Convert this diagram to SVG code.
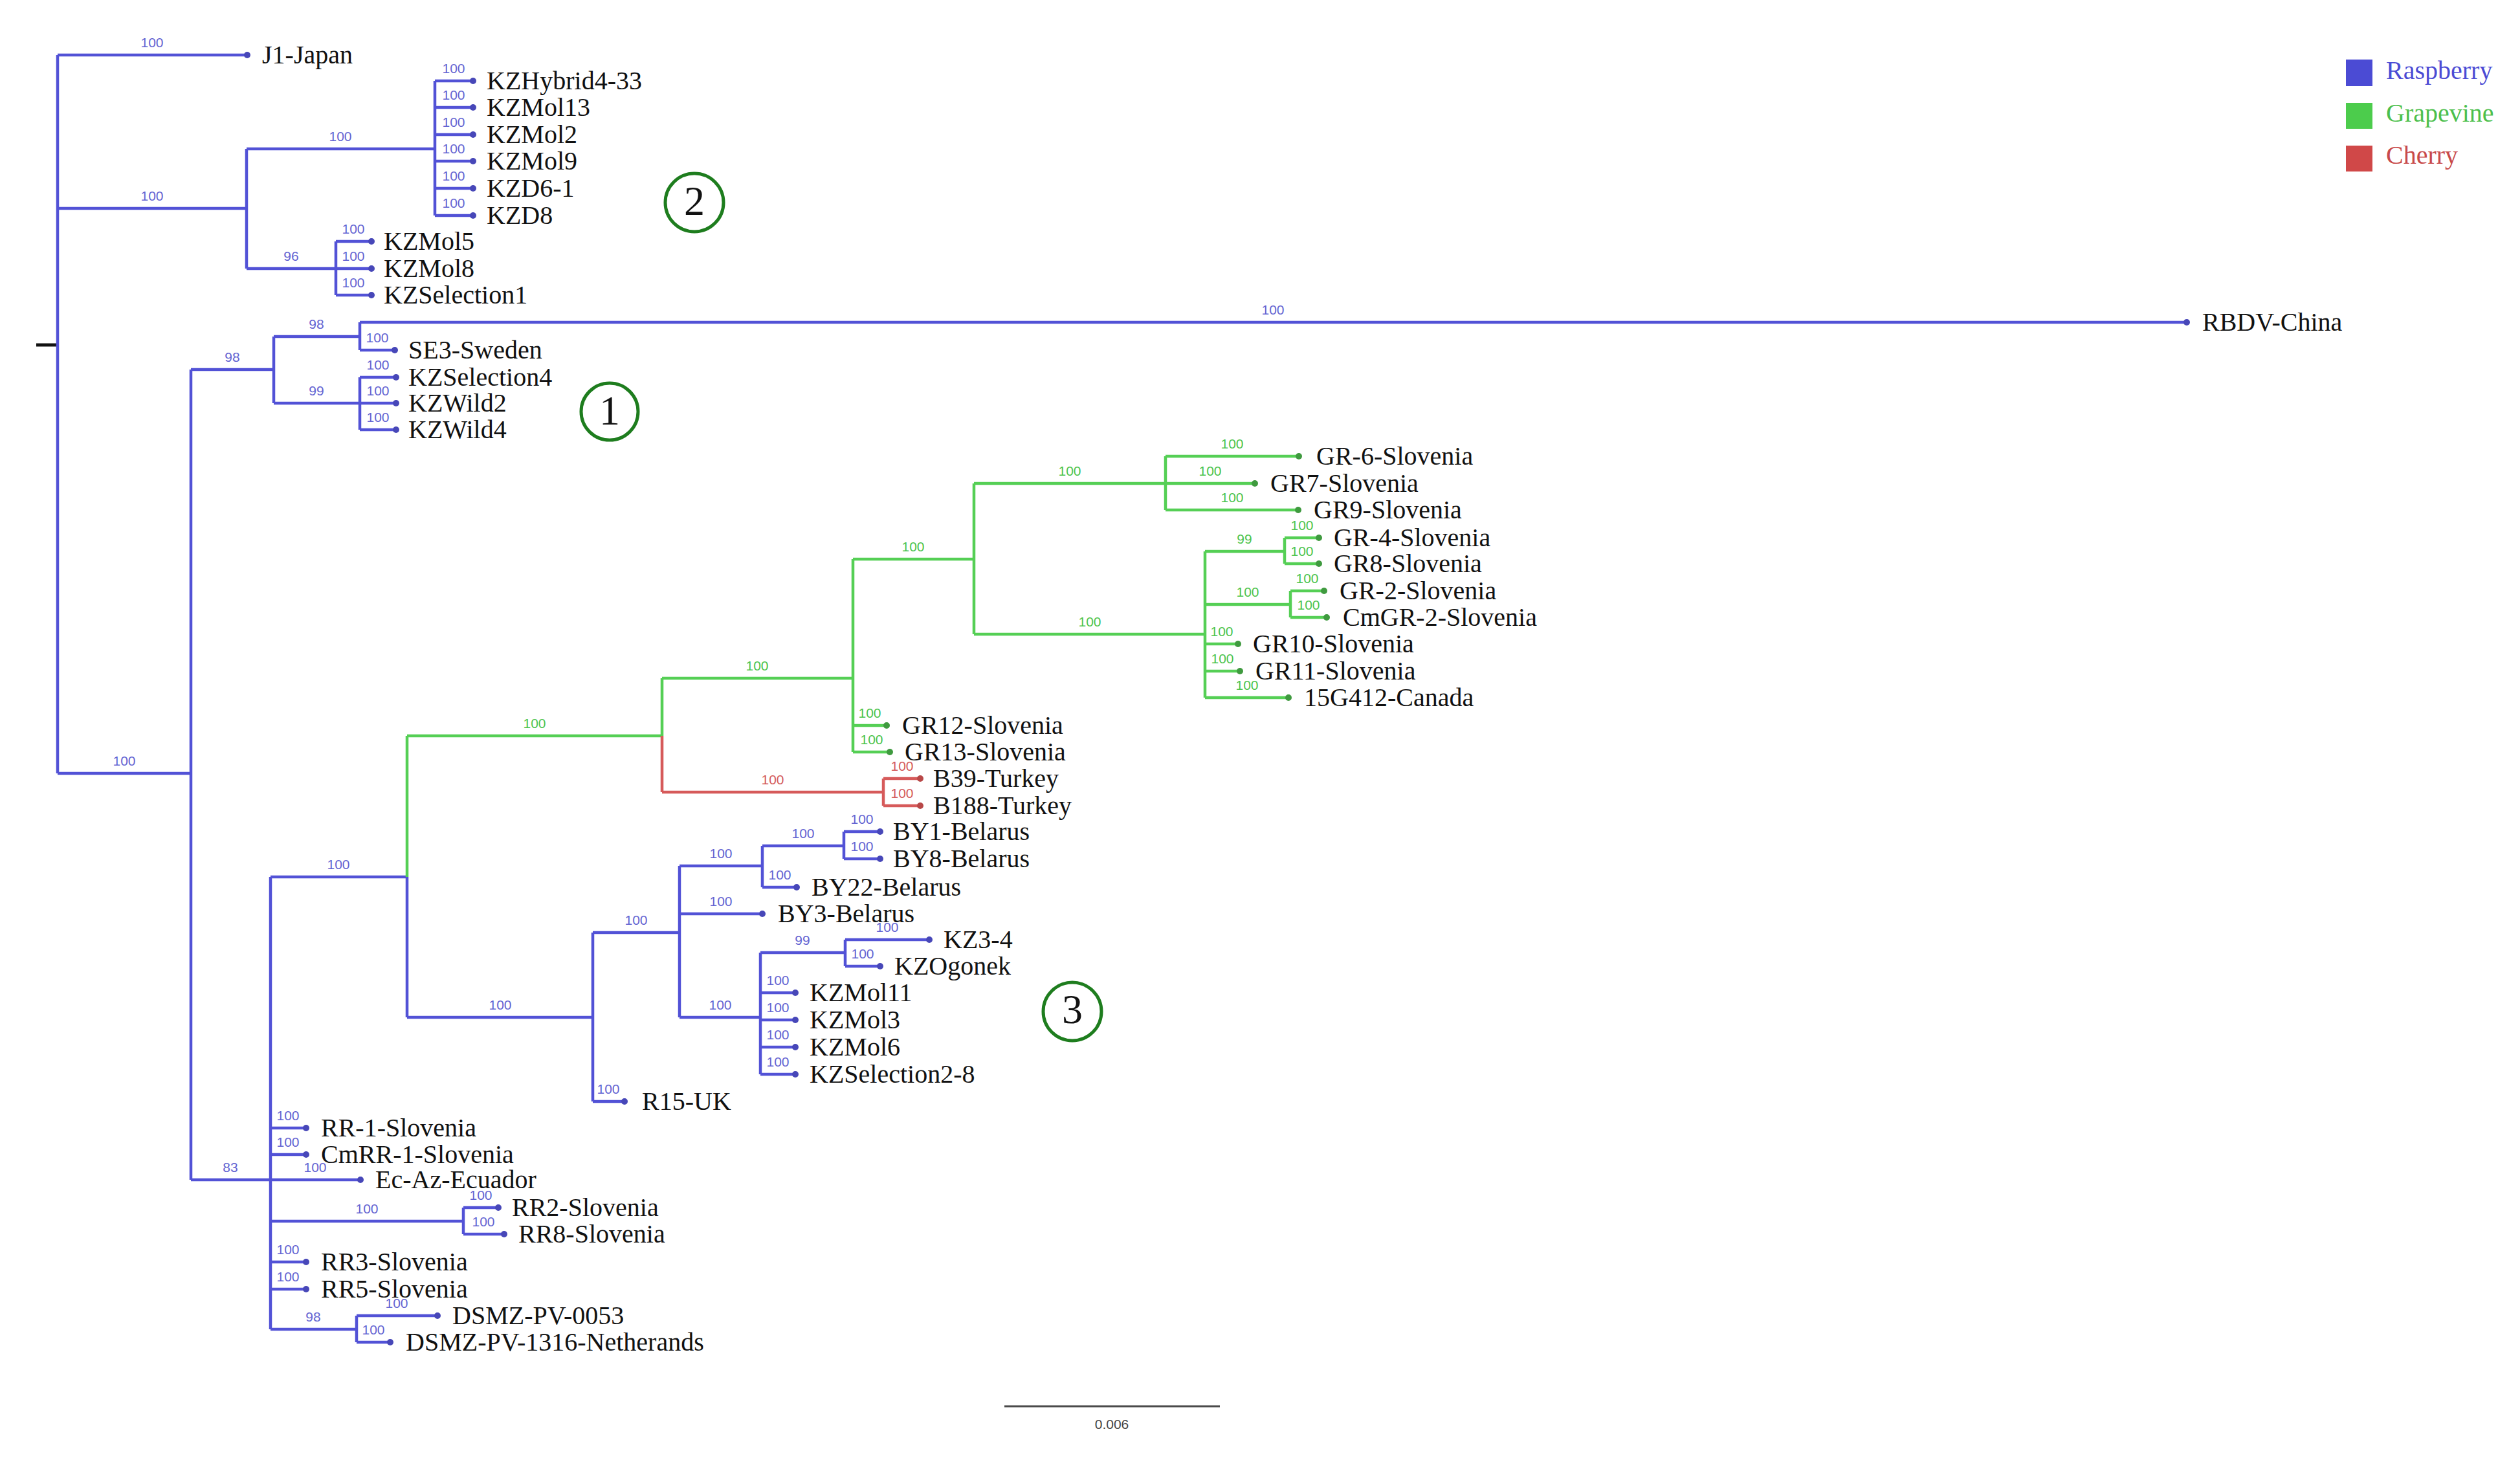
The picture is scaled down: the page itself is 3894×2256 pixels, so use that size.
<svg xmlns="http://www.w3.org/2000/svg" width="3894" height="2256" viewBox="0 0 3894 2256">
<style>
.b{stroke:#5252d6;stroke-width:4.5;fill:none}
.g{stroke:#55cf55;stroke-width:4.5;fill:none}
.r{stroke:#d65a5a;stroke-width:4.5;fill:none}
.k{stroke:#111;stroke-width:5;fill:none}
.bs{font-family:"Liberation Sans",Arial,sans-serif;font-size:21px;text-anchor:middle}
.sb{fill:#6464d2}.sg{fill:#4cc44c}.sr{fill:#d45a5a}
.lb{font-family:"Liberation Serif","Times New Roman",serif;font-size:40px;fill:#111}
.db{fill:#4747b8}.dg{fill:#3f9a3f}.dr{fill:#b84848}
.cl{fill:none;stroke:#1e7d1e;stroke-width:5}
.cn{font-family:"Liberation Serif","Times New Roman",serif;font-size:64px;fill:#111;text-anchor:middle}
.lg{font-family:"Liberation Serif","Times New Roman",serif;font-size:40px}
</style>
<rect width="3894" height="2256" fill="#fff"/>
<g id="connectors">
<path class="k" d="M56,533H89"/>
<path class="b" d="M89,85V1195 M89,85H382 M89,322H381 M381,230V415 M381,230H672 M672,125V333 M672,125H731 M672,166H731 M672,208H731 M672,249H731 M672,291H731 M672,333H731 M381,415H519 M519,373V456 M519,373H574 M519,415H574 M519,456H574 M89,1195H295 M295,571V1823 M295,571H423 M423,520V623 M423,520H556 M556,498V541 M556,498H3379 M556,541H610 M423,623H556 M556,583V664 M556,583H612 M556,623H612 M556,664H612 M295,1823H418 M418,1355V2054 M418,1355H629 M629,1355V1572 M629,1572H916 M916,1441V1702 M916,1441H1050 M1050,1338V1572 M1050,1338H1178 M1178,1307V1371 M1178,1307H1304 M1304,1285V1327 M1304,1285H1360 M1304,1327H1360 M1178,1371H1231 M1050,1412H1178 M1050,1572H1175 M1175,1472V1660 M1175,1472H1306 M1306,1452V1493 M1306,1452H1436 M1306,1493H1360 M1175,1534H1229 M1175,1576H1229 M1175,1618H1229 M1175,1660H1229 M916,1702H965 M418,1743H473 M418,1784H473 M418,1823H557 M418,1887H716 M716,1866V1907 M716,1866H770 M716,1907H779 M418,1950H473 M418,1992H473 M418,2054H551 M551,2033V2074 M551,2033H676 M551,2074H603"/>
<path class="g" d="M629,1137V1355 M629,1137H1023 M1023,1048V1137 M1023,1048H1318 M1318,864V1162 M1318,864H1505 M1505,747V980 M1505,747H1801 M1801,705V788 M1801,705H2007 M1801,747H1939 M1801,788H2006 M1505,980H1862 M1862,852V1078 M1862,852H1985 M1985,831V871 M1985,831H2038 M1985,871H2038 M1862,934H1994 M1994,913V954 M1994,913H2046 M1994,954H2050 M1862,995H1913 M1862,1037H1916 M1862,1078H1991 M1318,1121H1370 M1318,1162H1375"/>
<path class="r" d="M1023,1137V1224 M1023,1224H1365 M1365,1203V1245 M1365,1203H1422 M1365,1245H1422"/>
</g>
<g id="support">
<g class="bs sb">
<text x="235" y="73">100</text>
<text x="235" y="310">100</text>
<text x="526" y="218">100</text>
<text x="701" y="113">100</text>
<text x="701" y="154">100</text>
<text x="701" y="196">100</text>
<text x="701" y="237">100</text>
<text x="701" y="279">100</text>
<text x="701" y="321">100</text>
<text x="450" y="403">96</text>
<text x="546" y="361">100</text>
<text x="546" y="403">100</text>
<text x="546" y="444">100</text>
<text x="192" y="1183">100</text>
<text x="359" y="559">98</text>
<text x="489" y="508">98</text>
<text x="1967" y="486">100</text>
<text x="583" y="529">100</text>
<text x="489" y="611">99</text>
<text x="584" y="571">100</text>
<text x="584" y="611">100</text>
<text x="584" y="652">100</text>
<text x="356" y="1811">83</text>
<text x="523" y="1343">100</text>
<text x="773" y="1560">100</text>
<text x="983" y="1429">100</text>
<text x="1114" y="1326">100</text>
<text x="1241" y="1295">100</text>
<text x="1332" y="1273">100</text>
<text x="1332" y="1315">100</text>
<text x="1205" y="1359">100</text>
<text x="1114" y="1400">100</text>
<text x="1113" y="1560">100</text>
<text x="1240" y="1460">99</text>
<text x="1371" y="1440">100</text>
<text x="1333" y="1481">100</text>
<text x="1202" y="1522">100</text>
<text x="1202" y="1564">100</text>
<text x="1202" y="1606">100</text>
<text x="1202" y="1648">100</text>
<text x="940" y="1690">100</text>
<text x="445" y="1731">100</text>
<text x="445" y="1772">100</text>
<text x="487" y="1811">100</text>
<text x="567" y="1875">100</text>
<text x="743" y="1854">100</text>
<text x="747" y="1895">100</text>
<text x="445" y="1938">100</text>
<text x="445" y="1980">100</text>
<text x="484" y="2042">98</text>
<text x="613" y="2021">100</text>
<text x="577" y="2062">100</text>
</g>
<g class="bs sg">
<text x="826" y="1125">100</text>
<text x="1170" y="1036">100</text>
<text x="1411" y="852">100</text>
<text x="1653" y="735">100</text>
<text x="1904" y="693">100</text>
<text x="1870" y="735">100</text>
<text x="1904" y="776">100</text>
<text x="1684" y="968">100</text>
<text x="1923" y="840">99</text>
<text x="2012" y="819">100</text>
<text x="2012" y="859">100</text>
<text x="1928" y="922">100</text>
<text x="2020" y="901">100</text>
<text x="2022" y="942">100</text>
<text x="1888" y="983">100</text>
<text x="1889" y="1025">100</text>
<text x="1927" y="1066">100</text>
<text x="1344" y="1109">100</text>
<text x="1347" y="1150">100</text>
</g>
<g class="bs sr">
<text x="1194" y="1212">100</text>
<text x="1394" y="1191">100</text>
<text x="1394" y="1233">100</text>
</g>
</g>
<g id="leaves">
<g id="n-J1-Japan"><circle class="db" cx="382" cy="85" r="5"/><text class="lb" x="405" y="98">J1-Japan</text></g>
<g id="n-KZHybrid4-33"><circle class="db" cx="731" cy="125" r="5"/><text class="lb" x="752" y="138">KZHybrid4-33</text></g>
<g id="n-KZMol13"><circle class="db" cx="731" cy="166" r="5"/><text class="lb" x="752" y="179">KZMol13</text></g>
<g id="n-KZMol2"><circle class="db" cx="731" cy="208" r="5"/><text class="lb" x="752" y="221">KZMol2</text></g>
<g id="n-KZMol9"><circle class="db" cx="731" cy="249" r="5"/><text class="lb" x="752" y="262">KZMol9</text></g>
<g id="n-KZD6-1"><circle class="db" cx="731" cy="291" r="5"/><text class="lb" x="752" y="304">KZD6-1</text></g>
<g id="n-KZD8"><circle class="db" cx="731" cy="333" r="5"/><text class="lb" x="752" y="346">KZD8</text></g>
<g id="n-KZMol5"><circle class="db" cx="574" cy="373" r="5"/><text class="lb" x="593" y="386">KZMol5</text></g>
<g id="n-KZMol8"><circle class="db" cx="574" cy="415" r="5"/><text class="lb" x="593" y="428">KZMol8</text></g>
<g id="n-KZSelection1"><circle class="db" cx="574" cy="456" r="5"/><text class="lb" x="593" y="469">KZSelection1</text></g>
<g id="n-RBDV-China"><circle class="db" cx="3379" cy="498" r="5"/><text class="lb" x="3403" y="511">RBDV-China</text></g>
<g id="n-SE3-Sweden"><circle class="db" cx="610" cy="541" r="5"/><text class="lb" x="631" y="554">SE3-Sweden</text></g>
<g id="n-KZSelection4"><circle class="db" cx="612" cy="583" r="5"/><text class="lb" x="631" y="596">KZSelection4</text></g>
<g id="n-KZWild2"><circle class="db" cx="612" cy="623" r="5"/><text class="lb" x="631" y="636">KZWild2</text></g>
<g id="n-KZWild4"><circle class="db" cx="612" cy="664" r="5"/><text class="lb" x="631" y="677">KZWild4</text></g>
<g id="n-GR-6-Slovenia"><circle class="dg" cx="2007" cy="705" r="5"/><text class="lb" x="2034" y="718">GR-6-Slovenia</text></g>
<g id="n-GR7-Slovenia"><circle class="dg" cx="1939" cy="747" r="5"/><text class="lb" x="1963" y="760">GR7-Slovenia</text></g>
<g id="n-GR9-Slovenia"><circle class="dg" cx="2006" cy="788" r="5"/><text class="lb" x="2030" y="801">GR9-Slovenia</text></g>
<g id="n-GR-4-Slovenia"><circle class="dg" cx="2038" cy="831" r="5"/><text class="lb" x="2061" y="844">GR-4-Slovenia</text></g>
<g id="n-GR8-Slovenia"><circle class="dg" cx="2038" cy="871" r="5"/><text class="lb" x="2061" y="884">GR8-Slovenia</text></g>
<g id="n-GR-2-Slovenia"><circle class="dg" cx="2046" cy="913" r="5"/><text class="lb" x="2070" y="926">GR-2-Slovenia</text></g>
<g id="n-CmGR-2-Slovenia"><circle class="dg" cx="2050" cy="954" r="5"/><text class="lb" x="2075" y="967">CmGR-2-Slovenia</text></g>
<g id="n-GR10-Slovenia"><circle class="dg" cx="1913" cy="995" r="5"/><text class="lb" x="1936" y="1008">GR10-Slovenia</text></g>
<g id="n-GR11-Slovenia"><circle class="dg" cx="1916" cy="1037" r="5"/><text class="lb" x="1940" y="1050">GR11-Slovenia</text></g>
<g id="n-15G412-Canada"><circle class="dg" cx="1991" cy="1078" r="5"/><text class="lb" x="2015" y="1091">15G412-Canada</text></g>
<g id="n-GR12-Slovenia"><circle class="dg" cx="1370" cy="1121" r="5"/><text class="lb" x="1394" y="1134">GR12-Slovenia</text></g>
<g id="n-GR13-Slovenia"><circle class="dg" cx="1375" cy="1162" r="5"/><text class="lb" x="1398" y="1175">GR13-Slovenia</text></g>
<g id="n-B39-Turkey"><circle class="dr" cx="1422" cy="1203" r="5"/><text class="lb" x="1442" y="1216">B39-Turkey</text></g>
<g id="n-B188-Turkey"><circle class="dr" cx="1422" cy="1245" r="5"/><text class="lb" x="1442" y="1258">B188-Turkey</text></g>
<g id="n-BY1-Belarus"><circle class="db" cx="1360" cy="1285" r="5"/><text class="lb" x="1380" y="1298">BY1-Belarus</text></g>
<g id="n-BY8-Belarus"><circle class="db" cx="1360" cy="1327" r="5"/><text class="lb" x="1380" y="1340">BY8-Belarus</text></g>
<g id="n-BY22-Belarus"><circle class="db" cx="1231" cy="1371" r="5"/><text class="lb" x="1254" y="1384">BY22-Belarus</text></g>
<g id="n-BY3-Belarus"><circle class="db" cx="1178" cy="1412" r="5"/><text class="lb" x="1202" y="1425">BY3-Belarus</text></g>
<g id="n-KZ3-4"><circle class="db" cx="1436" cy="1452" r="5"/><text class="lb" x="1458" y="1465">KZ3-4</text></g>
<g id="n-KZOgonek"><circle class="db" cx="1360" cy="1493" r="5"/><text class="lb" x="1382" y="1506">KZOgonek</text></g>
<g id="n-KZMol11"><circle class="db" cx="1229" cy="1534" r="5"/><text class="lb" x="1251" y="1547">KZMol11</text></g>
<g id="n-KZMol3"><circle class="db" cx="1229" cy="1576" r="5"/><text class="lb" x="1251" y="1589">KZMol3</text></g>
<g id="n-KZMol6"><circle class="db" cx="1229" cy="1618" r="5"/><text class="lb" x="1251" y="1631">KZMol6</text></g>
<g id="n-KZSelection2-8"><circle class="db" cx="1229" cy="1660" r="5"/><text class="lb" x="1251" y="1673">KZSelection2-8</text></g>
<g id="n-R15-UK"><circle class="db" cx="965" cy="1702" r="5"/><text class="lb" x="992" y="1715">R15-UK</text></g>
<g id="n-RR-1-Slovenia"><circle class="db" cx="473" cy="1743" r="5"/><text class="lb" x="496" y="1756">RR-1-Slovenia</text></g>
<g id="n-CmRR-1-Slovenia"><circle class="db" cx="473" cy="1784" r="5"/><text class="lb" x="496" y="1797">CmRR-1-Slovenia</text></g>
<g id="n-Ec-Az-Ecuador"><circle class="db" cx="557" cy="1823" r="5"/><text class="lb" x="580" y="1836">Ec-Az-Ecuador</text></g>
<g id="n-RR2-Slovenia"><circle class="db" cx="770" cy="1866" r="5"/><text class="lb" x="791" y="1879">RR2-Slovenia</text></g>
<g id="n-RR8-Slovenia"><circle class="db" cx="779" cy="1907" r="5"/><text class="lb" x="801" y="1920">RR8-Slovenia</text></g>
<g id="n-RR3-Slovenia"><circle class="db" cx="473" cy="1950" r="5"/><text class="lb" x="496" y="1963">RR3-Slovenia</text></g>
<g id="n-RR5-Slovenia"><circle class="db" cx="473" cy="1992" r="5"/><text class="lb" x="496" y="2005">RR5-Slovenia</text></g>
<g id="n-DSMZ-PV-0053"><circle class="db" cx="676" cy="2033" r="5"/><text class="lb" x="699" y="2046">DSMZ-PV-0053</text></g>
<g id="n-DSMZ-PV-1316"><circle class="db" cx="603" cy="2074" r="5"/><text class="lb" x="627" y="2087">DSMZ-PV-1316-Netherands</text></g>
</g>
<g id="clade-1"><circle class="cl" cx="942" cy="636" r="44"/><text class="cn" x="942" y="656">1</text></g>
<g id="clade-2"><circle class="cl" cx="1073" cy="313" r="45"/><text class="cn" x="1073" y="332">2</text></g>
<g id="clade-3"><circle class="cl" cx="1657" cy="1563" r="45"/><text class="cn" x="1657" y="1581">3</text></g>
<g id="legend">
<rect x="3625" y="92" width="41" height="41" fill="#4b4bd4"/>
<text class="lg" x="3687" y="122" fill="#4b4bd4">Raspberry</text>
<rect x="3625" y="159" width="41" height="40" fill="#4ccc4c"/>
<text class="lg" x="3687" y="188" fill="#4cbf4c">Grapevine</text>
<rect x="3625" y="225" width="41" height="40" fill="#d04848"/>
<text class="lg" x="3687" y="253" fill="#c84a4a">Cherry</text>
</g>
<g id="scale">
<path d="M1552,2173H1885" stroke="#4a4a4a" stroke-width="3"/>
<text x="1718" y="2208" font-family="Liberation Sans, Arial, sans-serif" font-size="21" fill="#444" text-anchor="middle">0.006</text>
</g>
</svg>
